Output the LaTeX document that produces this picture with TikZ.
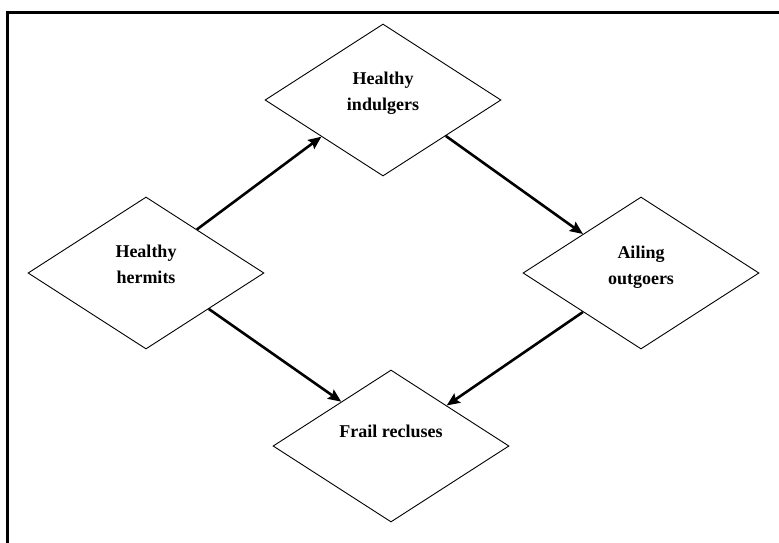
\documentclass[tikz,border=0pt]{standalone}
\usepackage{fontspec}
\setmainfont{Liberation Serif}
\usetikzlibrary{shapes.geometric,arrows.meta,calc}
\begin{document}
\begin{tikzpicture}[x=1pt,y=-1pt,
  dia/.style={draw,diamond,minimum width=236pt,minimum height=152pt,inner sep=0pt,line width=0.9pt},
  lbl/.style={font=\bfseries\fontsize{18}{26}\selectfont,align=center,inner sep=0pt,anchor=north},
  arr/.style={line width=2.6pt,-{Stealth[length=13pt,width=11pt,inset=2pt]}}]
\clip (0,0) rectangle (779,542);
\fill[white] (0,0) rectangle (779,542);
\draw[line width=2.6pt] (7.2,560) -- (7.2,12.3) -- (800,12.3);
% diamonds
\node[dia] (hh) at (146,273) {};
\node[dia] (hi) at (383,100) {};
\node[dia] (ao) at (641,273) {};
\node[dia] (fr) at (391,446) {};
% labels
\node[lbl] (thh) at ([yshift=-48pt]hh.north) {Healthy\\hermits};
\node[lbl] (thi) at ([yshift=-48pt]hi.north) {Healthy\\indulgers};
\node[lbl] (tao) at ([yshift=-49pt]ao.north) {Ailing\\outgoers};
\node[lbl] (tfr) at ([yshift=-55pt]fr.north) {Frail recluses};
% connectors
\draw[arr] ($(hh.north)!0.43!(hh.east)$) -- ($(hi.west)!0.48!(hi.south)$);
\draw[arr] ($(hi.east)!0.47!(hi.south)$) -- ($(ao.west)!0.51!(ao.north)$);
\draw[arr] ($(hh.east)!0.47!(hh.south)$) -- ($(fr.west)!0.58!(fr.north)$);
\draw[arr] ($(ao.west)!0.51!(ao.south)$) -- ($(fr.north)!0.47!(fr.east)$);
\end{tikzpicture}
\end{document}
